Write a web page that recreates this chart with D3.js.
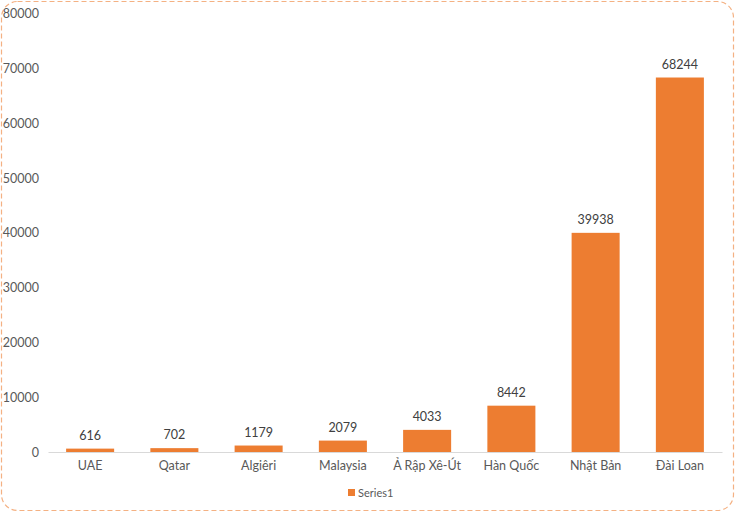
<!DOCTYPE html>
<html><head><meta charset="utf-8">
<script src="https://cdn.jsdelivr.net/npm/d3@7"></script>
<style>body{margin:0;background:#fff;} svg{display:block;} svg text{font-family:Lato,"Open Sans",sans-serif;}</style>
</head><body>
<svg id="c" width="736" height="513"></svg>
<script>
const categories = ["UAE","Qatar","Algiêri","Malaysia","Ả Rập Xê-Út","Hàn Quốc","Nhật Bản","Đài Loan"];
const values = [616,702,1179,2079,4033,8442,39938,68244];
const yTicks = [0,10000,20000,30000,40000,50000,60000,70000,80000];
const seriesName = "Series1";

const svg = d3.select("#c");
svg.append("rect").attr("x",1.5).attr("y",1.5).attr("width",732).attr("height",509)
  .attr("rx",16).attr("fill","#fff").attr("stroke","#f4b183").attr("stroke-width",1.2)
  .attr("stroke-dasharray","5,3");

const x = d3.scaleBand().domain(categories).range([48,722]).paddingInner(0.43).paddingOuter(0.215);
const y = d3.scaleLinear().domain([0,80000]).range([452,13]);

const yAxis = svg.append("g").attr("transform","translate(39,0)")
  .call(d3.axisLeft(y).tickValues(yTicks).tickSize(0).tickPadding(0).tickFormat(d3.format("d")));
yAxis.select(".domain").remove();
yAxis.selectAll("text").attr("fill","#595959").style("font-size","12.5px").attr("dy","0.35em");

svg.selectAll("rect.bar").data(values).join("rect").attr("class","bar")
  .attr("x",(d,i)=>x(categories[i])).attr("width",x.bandwidth())
  .attr("y",d=>y(d)).attr("height",d=>y(0)-y(d)).attr("fill","#ed7d31");

svg.selectAll("text.lbl").data(values).join("text").attr("class","lbl")
  .attr("x",(d,i)=>x(categories[i])+x.bandwidth()/2).attr("y",d=>y(d)-9)
  .attr("text-anchor","middle").attr("fill","#404040").style("font-size","12.5px").text(d=>d);

const xAxis = svg.append("g").attr("transform","translate(0,452)")
  .call(d3.axisBottom(x).tickSize(0).tickPadding(9));
xAxis.select(".domain").attr("stroke","#d9d9d9");
xAxis.selectAll("text").attr("fill","#595959").style("font-size","12.5px");

const lg = svg.append("g");
lg.append("rect").attr("x",348).attr("y",489).attr("width",7).attr("height",7).attr("fill","#ed7d31");
lg.append("text").attr("x",358).attr("y",493).attr("dy","0.35em").attr("fill","#595959").style("font-size","11px").text(seriesName);
</script>
</body></html>
